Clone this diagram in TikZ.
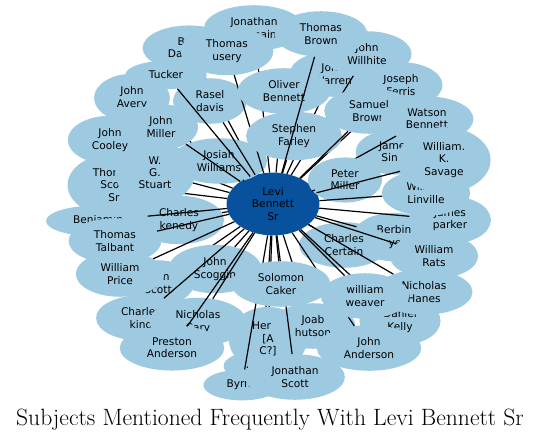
\documentclass[tikz,border=0pt]{standalone}
\usepackage{fontspec}
\newfontfamily\dejavu{DejaVu Sans}
\usepackage{tikz}
\usetikzlibrary{shapes.geometric}
\usepackage{xcolor}
\definecolor{ringblue}{RGB}{158,202,225}
\definecolor{hubblue}{RGB}{8,81,156}

\begin{document}
\begin{tikzpicture}[x=1pt, y=-1pt,
  person/.style={ellipse, fill=ringblue, align=center, inner xsep=11.8pt, inner ysep=5.9pt,
    font=\dejavu\fontsize{10.6}{12.2}\selectfont},
  hub/.style={person, fill=hubblue},
  link/.style={line width=1.2pt}]
  \useasboundingbox (0,0) rectangle (541,441);

  % Back of the cloud
  \node[person] (ferris) at (401,85) {Joseph\\Ferris};
  \node[person] (jonathan) at (254,28) {Jonathan\\Germain};
  \node[person] (burr) at (189,48) {Burr\\Dawson};
  \node[person] (avery) at (132,98) {John\\Avery};
  \node[person] (cooley) at (110,140) {John\\Cooley};
  \node[person] (siner) at (395,152) {James\\Siner};
  \node[person] (parker) at (450,220) {James\\parker};
  \node[person] (berbin) at (394,237) {Berbin\\Ayer};
  \node[person] (warren) at (333,74) {John\\Warren};
  \node[person] (willhite) at (367,54) {John\\Willhite};
  \node[person] (certain) at (344,245) {Charles\\Certain};

  % Hub
  \node[hub] (levi) at (273,204) {Levi\\Bennett\\Sr};
  \foreach \n in {ferris,jonathan,burr,avery,cooley,siner,parker,berbin,warren,willhite,certain}
    \draw[link] (levi) -- (\n);

  % Upper half
  \node[person] (josiah) at (219,161) {Josiah\\Williams};
  \draw[link] (levi) -- (josiah);
  \node[person] (rasel) at (210,101) {Rasel\\davis};
  \draw[link] (levi) -- (rasel);
  \node[person] (usery) at (227,51) {Thomas\\usery};
  \draw[link] (levi) -- (usery);
  \node[person] (tucker) at (166,75) {Tucker};
  \draw[link] (levi) -- (tucker);
  \node[person] (jmiller) at (161,127) {John\\Miller};
  \draw[link] (levi) -- (jmiller);
  \node[person] (oliver) at (284,91) {Oliver\\Bennett};
  \draw[link] (levi) -- (oliver);
  \node[person] (farley) at (294,136) {Stephen\\Farley};
  \draw[link] (levi) -- (farley);
  \node[person] (tbrown) at (321,34) {Thomas\\Brown};
  \draw[link] (levi) -- (tbrown);
  \node[person] (samuel) at (369,111) {Samuel\\Brown};
  \draw[link] (levi) -- (samuel);
  \node[person] (watson) at (427,119) {Watson\\Bennett};
  \draw[link] (levi) -- (watson);
  \node[person] (pmiller) at (345,180) {Peter\\Miller};
  \draw[link] (levi) -- (pmiller);
  \node[person] (linville) at (426,193) {William\\Linville};
  \draw[link] (levi) -- (linville);
  \node[person] (savage) at (444,160) {William.\\K.\\Savage};
  \draw[link] (levi) -- (savage);

  % Left side
  \node[person] (kenedy) at (179,220) {Charles\\kenedy};
  \draw[link] (levi) -- (kenedy);
  \node[person] (ben) at (98,221) {Benjamin};
  \draw[link] (levi) -- (ben);
  \node[person] (tscott) at (114,185) {Thomas\\Scott\\Sr};
  \draw[link] (levi) -- (tscott);
  \node[person] (stuart) at (155,173) {W.\\G.\\Stuart};
  \draw[link] (levi) -- (stuart);
  \node[person] (talbant) at (115,241) {Thomas\\Talbant};
  \draw[link] (levi) -- (talbant);
  \node[person] (jscott) at (158,283) {John\\Scott};
  \draw[link] (levi) -- (jscott);
  \node[person] (price) at (120,274) {William\\Price};
  \draw[link] (levi) -- (price);

  % Lower half
  \node[person] (scoggin) at (215,269) {John\\Scoggin};
  \draw[link] (levi) -- (scoggin);
  \node[person] (charlkind) at (141,318) {Charles\\kind};
  \draw[link] (levi) -- (charlkind);
  \node[person] (nicholas) at (198,322) {Nicholas\\Cary};
  \draw[link] (levi) -- (nicholas);
  \node[person] (preston) at (172,348) {Preston\\Anderson};
  \draw[link] (levi) -- (preston);
  \node[person] (rats) at (434,256) {William\\Rats};
  \draw[link] (levi) -- (rats);
  \node[person] (ath) at (262,366) {Athey};
  \draw[link] (levi) -- (ath);
  \node[person] (henry) at (268,339) {Henry\\{[A}\\C?]};
  \draw[link] (levi) -- (henry);
  \node[person] (joab) at (313,326) {Joab\\hutson};
  \draw[link] (levi) -- (joab);
  \node[person] (kelly) at (400,321) {Daniel\\Kelly};
  \draw[link] (levi) -- (kelly);
  \node[person] (anderson) at (369,348) {John\\Anderson};
  \draw[link] (levi) -- (anderson);
  \node[person] (hanes) at (424,292) {Nicholas\\Hanes};
  \draw[link] (levi) -- (hanes);
  \node[person] (weaver) at (365,296) {william\\weaver};
  \draw[link] (levi) -- (weaver);
  \node[person] (byrn) at (242,385) {Byrne};
  \draw[link] (levi) -- (byrn);
  \node[person] (scott) at (295,377) {Jonathan\\Scott};
  \draw[link] (levi) -- (scott);
  \node[person] (caker) at (281,284) {Solomon\\Caker};
  \draw[link] (levi) -- (caker);

  % Title
  \node[anchor=base, font=\fontsize{23.6}{27}\selectfont] (title) at (270,425)
    {Subjects Mentioned Frequently With Levi Bennett Sr};
\end{tikzpicture}
\end{document}
